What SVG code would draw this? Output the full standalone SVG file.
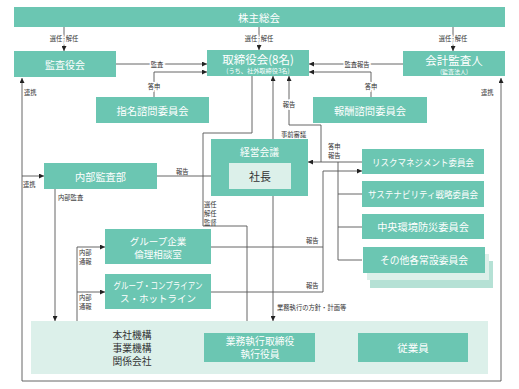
<svg xmlns="http://www.w3.org/2000/svg" width="519" height="389" viewBox="0 0 519 389">
<defs>
<marker id="ah" viewBox="0 0 10 10" refX="10" refY="5" markerWidth="5" markerHeight="5" orient="auto-start-reverse" markerUnits="userSpaceOnUse">
<path d="M0,0 L10,5 L0,10 z" fill="#222"/>
</marker>
<style>
.box{fill:#6bc6b2;}
.light{fill:#dcf0ea;}
.t{font-family:"Noto Sans CJK JP","Noto Sans",sans-serif;fill:#fff;text-anchor:middle;dominant-baseline:central;}
.d{font-family:"Noto Sans CJK JP","Noto Sans",sans-serif;fill:#333;text-anchor:middle;dominant-baseline:central;}
.lbl{font-family:"Noto Sans CJK JP","Noto Sans",sans-serif;fill:#333;font-size:6.3px;dominant-baseline:central;}
.bg{stroke:#fff;stroke-width:3;paint-order:stroke;}
.ln{fill:none;stroke:#555;stroke-width:0.9;}
.ar{marker-end:url(#ah);}
</style>
</defs>
<rect width="519" height="389" fill="#fff"/>

<g id="connectors">
<path class="ln ar" d="M64,27 V51"/>
<path class="ln ar" d="M259,27 V50"/>
<path class="ln ar" d="M453,27 V51"/>
<path class="ln ar" d="M116,64 H207"/>
<path class="ln ar" d="M154,97 V72 H207"/>
<path class="ln ar" d="M403,64 H309"/>
<path class="ln ar" d="M371,97 V72 H309"/>
<path class="ln" d="M22,78 V381 H501 V78" marker-start="url(#ah)" marker-end="url(#ah)"/>
<path class="ln ar" d="M22,176 H44"/>
<path class="ln ar" d="M157,176 H229"/>
<path class="ln ar" d="M273,139 V76"/>
<path class="ln ar" d="M321,162 V125 H289 V76"/>
<path class="ln ar" d="M362,162 H308"/>
<path class="ln" d="M338,162 V260 H362 M338,194 H362 M338,227 H362"/>
<path class="ln ar" d="M211,247 H323 V171 H362"/>
<path class="ln" d="M211,292 H323 V247"/>
<path class="ln ar" d="M252,76 V133 H203 V226 H247 V333"/>
<path class="ln ar" d="M273,196 V321"/>
<path class="ln ar" d="M55,189 V321"/>
<path class="ln ar" d="M77,321 V247 H105"/>
<path class="ln ar" d="M77,292 H105"/>
</g>

<g id="labels">
<text class="lbl bg" x="64" y="38" text-anchor="middle">選任·解任</text>
<text class="lbl bg" x="259" y="38" text-anchor="middle">選任·解任</text>
<text class="lbl bg" x="453" y="38" text-anchor="middle">選任·解任</text>
<text class="lbl bg" x="157" y="64" text-anchor="middle">監査</text>
<text class="lbl bg" x="154" y="86" text-anchor="middle">答申</text>
<text class="lbl bg" x="357" y="64" text-anchor="middle">監査報告</text>
<text class="lbl bg" x="371" y="86" text-anchor="middle">答申</text>
<text class="lbl" x="24" y="92">連携</text>
<text class="lbl" x="481" y="92">連携</text>
<text class="lbl" x="23" y="184">連携</text>
<text class="lbl" x="176" y="171">報告</text>
<text class="lbl" x="58" y="197">内部監査</text>
<text class="lbl bg" x="289" y="104" text-anchor="middle">報告</text>
<text class="lbl" x="281" y="134">事前審議</text>
<text class="lbl" x="328" y="146">答申<tspan x="328" y="155">報告</tspan></text>
<text class="lbl" x="204" y="204">選任<tspan x="204" y="213">解任</tspan><tspan x="204" y="222">監督</tspan></text>
<text class="lbl" x="306" y="240">報告</text>
<text class="lbl" x="306" y="285">報告</text>
<text class="lbl" x="79" y="252">内部<tspan x="79" y="261">通報</tspan></text>
<text class="lbl" x="79" y="297">内部<tspan x="79" y="306">通報</tspan></text>
<text class="lbl" x="277" y="307">業務執行の方針・計画等</text>
</g>

<g id="shareholders">
<rect class="box" x="14" y="7" width="491" height="20"/>
<text class="t" x="259" y="17" font-size="10.5">株主総会</text>
</g>
<g id="kansayakukai">
<rect class="box" x="14" y="51" width="102" height="26"/>
<text class="t" x="65" y="64" font-size="10">監査役会</text>
</g>
<g id="torishimariyakukai">
<rect class="box" x="207" y="50" width="102" height="26"/>
<text class="t" x="258" y="59" font-size="11.5">取締役会(8名)</text>
<text class="t" x="258" y="70.5" font-size="6.2">(うち、社外取締役3名)</text>
</g>
<g id="kaikei">
<rect class="box" x="403" y="51" width="102" height="25"/>
<text class="t" x="454" y="60" font-size="11.5">会計監査人</text>
<text class="t" x="454" y="71" font-size="6">(監査法人)</text>
</g>
<g id="shimei">
<rect class="box" x="96" y="97" width="113" height="26"/>
<text class="t" x="152.5" y="110" font-size="10.3">指名諮問委員会</text>
</g>
<g id="houshu">
<rect class="box" x="313" y="97" width="114" height="26"/>
<text class="t" x="370" y="110" font-size="10.3">報酬諮問委員会</text>
</g>
<g id="naibukansa">
<rect class="box" x="44" y="163" width="113" height="26"/>
<text class="t" x="100.5" y="176" font-size="10.2">内部監査部</text>
</g>
<g id="keieikaigi">
<rect class="box" x="211" y="139" width="97" height="57"/>
<text class="t" x="259.5" y="152" font-size="9.8">経営会議</text>
<rect class="light" x="229" y="163" width="62" height="26"/>
<text class="d" x="260" y="176" font-size="11">社長</text>
</g>
<g id="risk">
<rect class="box" x="362" y="149" width="122" height="25"/>
<text class="t" x="423" y="161.5" font-size="9.5" textLength="102" lengthAdjust="spacingAndGlyphs">リスクマネジメント委員会</text>
</g>
<g id="sustain">
<rect class="box" x="362" y="181" width="122" height="26"/>
<text class="t" x="423" y="194" font-size="9.5" textLength="110" lengthAdjust="spacingAndGlyphs">サステナビリティ戦略委員会</text>
</g>
<g id="kankyo">
<rect class="box" x="362" y="214" width="122" height="25"/>
<text class="t" x="423" y="226.5" font-size="10.2">中央環境防災委員会</text>
</g>
<g id="sonota">
<rect fill="#b5e1d5" x="370" y="261" width="123" height="27"/>
<rect class="light" x="367" y="254" width="122" height="26"/>
<rect class="box" x="363" y="247" width="122" height="26"/>
<text class="t" x="424" y="260" font-size="9.8">その他各常設委員会</text>
</g>
<g id="rinri">
<rect class="box" x="105" y="229" width="106" height="35"/>
<text class="t" x="158" y="240.5" font-size="9.5">グループ企業<tspan x="158" y="253.5">倫理相談室</tspan></text>
</g>
<g id="hotline">
<rect class="box" x="105" y="274" width="106" height="35"/>
<text class="t" x="158" y="285" font-size="9.5"><tspan textLength="89" lengthAdjust="spacingAndGlyphs">グループ・コンプライアン</tspan><tspan x="158" y="298">ス・ホットライン</tspan></text>
</g>
<g id="organization">
<rect class="light" x="31" y="321" width="457" height="53"/>
<text class="d" x="132" y="335" font-size="9.8">本社機構<tspan x="132" y="348">事業機構</tspan><tspan x="132" y="361">関係会社</tspan></text>
</g>
<g id="shikkou">
<rect class="box" x="204" y="333" width="111" height="29"/>
<text class="t" x="260" y="341" font-size="9.8">業務執行取締役<tspan x="260" y="354">執行役員</tspan></text>
</g>
<g id="jugyoin">
<rect class="box" x="358" y="333" width="110" height="29"/>
<text class="t" x="413" y="347.5" font-size="10.5">従業員</text>
</g>
</svg>
